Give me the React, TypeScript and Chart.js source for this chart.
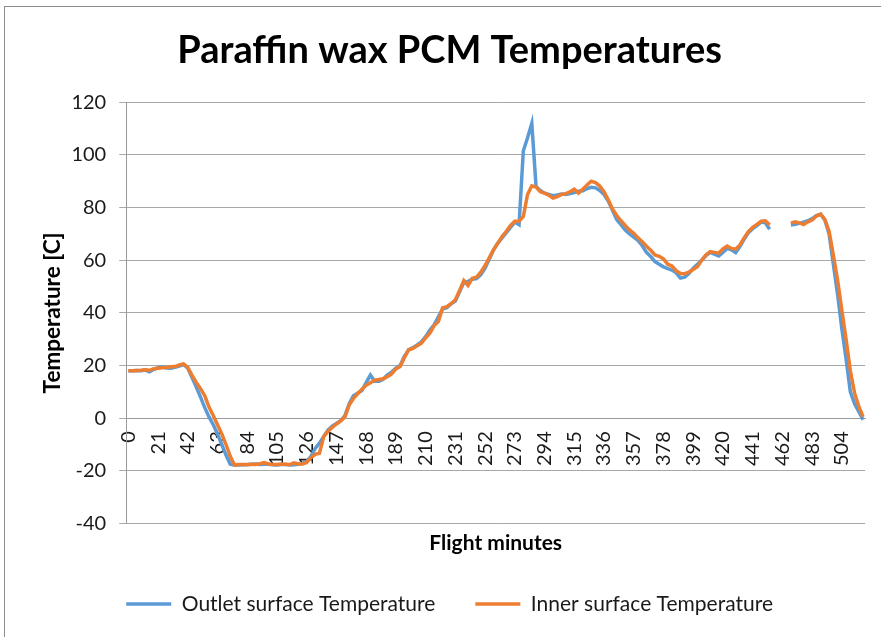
import React, { useEffect, useRef } from 'react';
import { Chart, registerables } from 'chart.js';

Chart.register(...registerables);

// Flight minutes (category axis, one sample every 3 minutes)
const minutes = [
  0, 3, 6, 9, 12, 15, 18,
  21, 24, 27, 30, 33, 36, 39,
  42, 45, 48, 51, 54, 57, 60,
  63, 66, 69, 72, 75, 78, 81,
  84, 87, 90, 93, 96, 99, 102,
  105, 108, 111, 114, 117, 120, 123,
  126, 129, 132, 135, 138, 141, 144,
  147, 150, 153, 156, 159, 162, 165,
  168, 171, 174, 177, 180, 183, 186,
  189, 192, 195, 198, 201, 204, 207,
  210, 213, 216, 219, 222, 225, 228,
  231, 234, 237, 240, 243, 246, 249,
  252, 255, 258, 261, 264, 267, 270,
  273, 276, 279, 282, 285, 288, 291,
  294, 297, 300, 303, 306, 309, 312,
  315, 318, 321, 324, 327, 330, 333,
  336, 339, 342, 345, 348, 351, 354,
  357, 360, 363, 366, 369, 372, 375,
  378, 381, 384, 387, 390, 393, 396,
  399, 402, 405, 408, 411, 414, 417,
  420, 423, 426, 429, 432, 435, 438,
  441, 444, 447, 450, 453, 456, 459,
  462, 465, 468, 471, 474, 477, 480,
  483, 486, 489, 492, 495, 498, 501,
  504, 507, 510, 513, 516, 519,
];

// Outlet surface Temperature [C]
const outletTemp = [
  18.0, 18.0, 18.1, 18.0, 18.3, 17.6, 18.6,
  19.2, 19.4, 19.1, 19.0, 19.3, 19.8, 20.4,
  19.0, 15.5, 11.8, 8.0, 4.0, 0.5, -2.5,
  -6.0, -10.0, -14.0, -17.5, -17.8, -17.8, -17.7,
  -17.6, -17.5, -17.4, -17.6, -17.5, -17.5, -17.7,
  -17.8, -17.6, -17.6, -17.8, -17.7, -17.5, -17.2,
  -16.5, -14.5, -11.5, -9.5, -7.0, -4.5, -3.0,
  -2.0, -1.0, 1.0, 5.5, 8.5, 9.5, 10.5,
  13.5, 16.4, 14.0, 14.0, 14.8, 16.5, 17.5,
  19.0, 20.0, 23.5, 26.0, 26.8, 27.8, 29.0,
  31.0, 33.5, 35.5, 38.5, 41.5, 42.0, 43.5,
  44.5, 48.0, 51.5, 52.0, 52.8, 53.0, 54.5,
  57.0, 60.5, 64.0, 66.5, 68.5, 70.5, 72.5,
  74.5, 73.5, 101.5, 106.5, 112.0, 88.0, 86.5,
  85.5, 85.0, 84.5, 84.8, 85.2, 85.0, 85.3,
  85.7, 86.2, 86.4, 87.2, 87.7, 87.5, 86.5,
  85.0, 82.5, 79.0, 75.5, 73.5, 71.5, 70.0,
  68.8, 67.5, 65.5, 63.0, 61.4, 59.5, 58.5,
  57.5, 56.8, 56.3, 55.2, 53.2, 53.6, 55.0,
  57.0, 58.5, 60.0, 61.8, 63.0, 62.3, 61.6,
  63.0, 64.5, 64.0, 62.9, 65.2, 68.0, 70.5,
  72.0, 73.2, 74.5, 74.2, 71.8, null, null,
  null, null, 73.4, 73.7, 74.0, 74.5, 75.0,
  75.8, 77.0, 77.5, 75.3, 70.0, 58.5, 47.0,
  34.0, 22.5, 10.0, 5.5, 2.5, -0.6,
];

// Inner surface Temperature [C]
const innerTemp = [
  18.0, 18.0, 18.1, 18.2, 18.4, 18.2, 18.8,
  19.0, 19.2, 19.3, 19.5, 19.6, 20.2, 20.6,
  19.3, 16.3, 13.6, 11.2, 8.5, 4.2, 1.0,
  -2.5, -6.0, -10.0, -14.5, -17.8, -17.6, -17.6,
  -17.7, -17.5, -17.6, -17.3, -16.9, -17.4, -17.6,
  -17.6, -17.4, -17.5, -17.6, -17.0, -17.4, -17.4,
  -16.8, -15.0, -13.7, -13.3, -7.0, -5.0, -3.5,
  -2.2, -1.0, 0.5, 5.0, 7.5, 9.3, 11.0,
  12.5, 13.5, 14.4, 14.7, 15.0, 15.8, 16.8,
  18.7, 19.6, 23.0, 26.0, 26.5, 27.5, 28.5,
  30.5, 32.3, 35.2, 36.7, 41.9, 42.4, 43.5,
  45.0, 48.5, 52.3, 50.4, 53.2, 53.6, 55.5,
  58.0, 61.0, 64.0, 66.5, 69.0, 71.0, 73.2,
  74.8, 74.8, 76.6, 85.0, 88.3, 87.8, 86.0,
  85.5, 84.7, 83.6, 84.2, 85.0, 85.3, 86.0,
  87.0, 85.5, 87.0, 88.6, 90.0, 89.5, 88.2,
  86.0, 83.0, 79.5, 77.0, 75.0, 73.2, 71.5,
  70.2, 68.5, 67.0, 65.3, 63.8, 62.0, 61.5,
  60.5, 58.5, 57.8, 56.0, 55.0, 54.9, 55.5,
  56.5, 57.5, 60.0, 62.0, 63.3, 63.0, 62.7,
  64.3, 65.4, 64.5, 64.2, 65.8, 68.5, 70.9,
  72.5, 73.6, 74.8, 75.0, 73.4, null, null,
  null, null, 74.1, 74.6, 74.2, 73.6, 74.6,
  75.3, 76.8, 77.5, 75.5, 71.0, 62.0, 52.5,
  41.0, 30.0, 18.0, 9.5, 4.5, 0.5,
];

const seriesNames = ['Outlet surface Temperature', 'Inner surface Temperature'];
const seriesColors = ['#5B9BD5', '#ED7D31'];
const labelEvery = 21;
const yMin = -40;
const yMax = 120;
const yStep = 20;

const FONT = 'Lato, "Open Sans", "DejaVu Sans", sans-serif';

const framePlugin = {
  id: 'frame',
  beforeDraw(chart: any) {
    const ctx = chart.ctx;
    ctx.save();
    ctx.fillStyle = '#ffffff';
    ctx.fillRect(0, 0, chart.width, chart.height);
    ctx.strokeStyle = '#8c8c8c';
    ctx.lineWidth = 1;
    ctx.strokeRect(4.5, 6.5, chart.width + 20, chart.height + 20);
    ctx.restore();
  },
};

export default function App() {
  const canvasRef = useRef<HTMLCanvasElement | null>(null);

  useEffect(() => {
    if (!canvasRef.current) return;
    const chart = new Chart(canvasRef.current, {
      type: 'line',
      data: {
        labels: minutes.map(String),
        datasets: [
          {
            label: seriesNames[0],
            data: outletTemp,
            borderColor: seriesColors[0],
            backgroundColor: seriesColors[0],
            borderWidth: 3.5,
            pointRadius: 0,
            tension: 0,
            order: 1,
            xAxisID: 'x',
          },
          {
            label: seriesNames[1],
            data: innerTemp,
            borderColor: seriesColors[1],
            backgroundColor: seriesColors[1],
            borderWidth: 3.5,
            pointRadius: 0,
            tension: 0,
            order: 0,
            xAxisID: 'x',
          },
        ],
      },
      options: {
        responsive: false,
        animation: false,
        events: [],
        layout: { padding: { left: 34, right: 15.8, top: 0, bottom: 12.5 } },
        plugins: {
          title: {
            display: true,
            text: 'Paraffin wax PCM Temperatures',
            color: '#000000',
            font: { family: FONT, size: 38, weight: 'bold' },
            padding: { top: 28.2, bottom: 28.5 },
          },
          legend: {
            position: 'bottom',
            labels: {
              usePointStyle: true,
              pointStyle: 'line',
              pointStyleWidth: 45,
              color: '#1a1a1a',
              font: { family: FONT, size: 21 },
              padding: 40,
              sort: (a: any, b: any) => a.datasetIndex - b.datasetIndex,
            },
          },
          tooltip: { enabled: false },
        },
        scales: {
          x: {
            type: 'category',
            position: { y: 0 } as any,
            offset: true,
            grid: { display: false, drawTicks: false },
            border: { display: true, color: '#9a9a9a', width: 1 },
            ticks: {
              autoSkip: false,
              minRotation: 90,
              maxRotation: 90,
              padding: 13,
              color: '#1a1a1a',
              font: { family: FONT, size: 20 },
              callback: (_v: any, i: number) =>
                minutes[i] % labelEvery === 0 ? String(minutes[i]) : '',
            },
            afterFit: (s: any) => {
              s.paddingLeft = 0;
              s.paddingRight = 0;
            },
          },
          x2: {
            type: 'category',
            position: 'bottom',
            offset: true,
            grid: { display: false, drawTicks: false },
            border: { display: false },
            ticks: { display: false },
            title: {
              display: true,
              text: 'Flight minutes',
              color: '#000000',
              font: { family: FONT, size: 21, weight: 'bold', lineHeight: 1 },
              padding: { top: 0, bottom: 0 },
            },
            afterFit: (s: any) => {
              s.height = 30;
            },
          },
          y: {
            min: yMin,
            max: yMax,
            ticks: {
              stepSize: yStep,
              padding: 13,
              color: '#1a1a1a',
              font: { family: FONT, size: 20 },
            },
            grid: { color: '#a8a8a8', lineWidth: 1, tickLength: 7 },
            border: { color: '#9a9a9a', width: 1 },
            title: {
              display: true,
              text: 'Temperature [C]',
              color: '#000000',
              font: { family: FONT, size: 22.5, weight: 'bold', lineHeight: 1 },
              padding: { top: 7.25, bottom: 0 },
            },
            afterFit: (s: any) => {
              s.width = 92.2;
            },
          },
        },
      },
      plugins: [framePlugin],
    } as any);
    return () => chart.destroy();
  }, []);

  return (
    <div style={{ position: 'absolute', left: 0, top: 0, width: 881, height: 637 }}>
      <canvas ref={canvasRef} width={881} height={637} />
    </div>
  );
}
